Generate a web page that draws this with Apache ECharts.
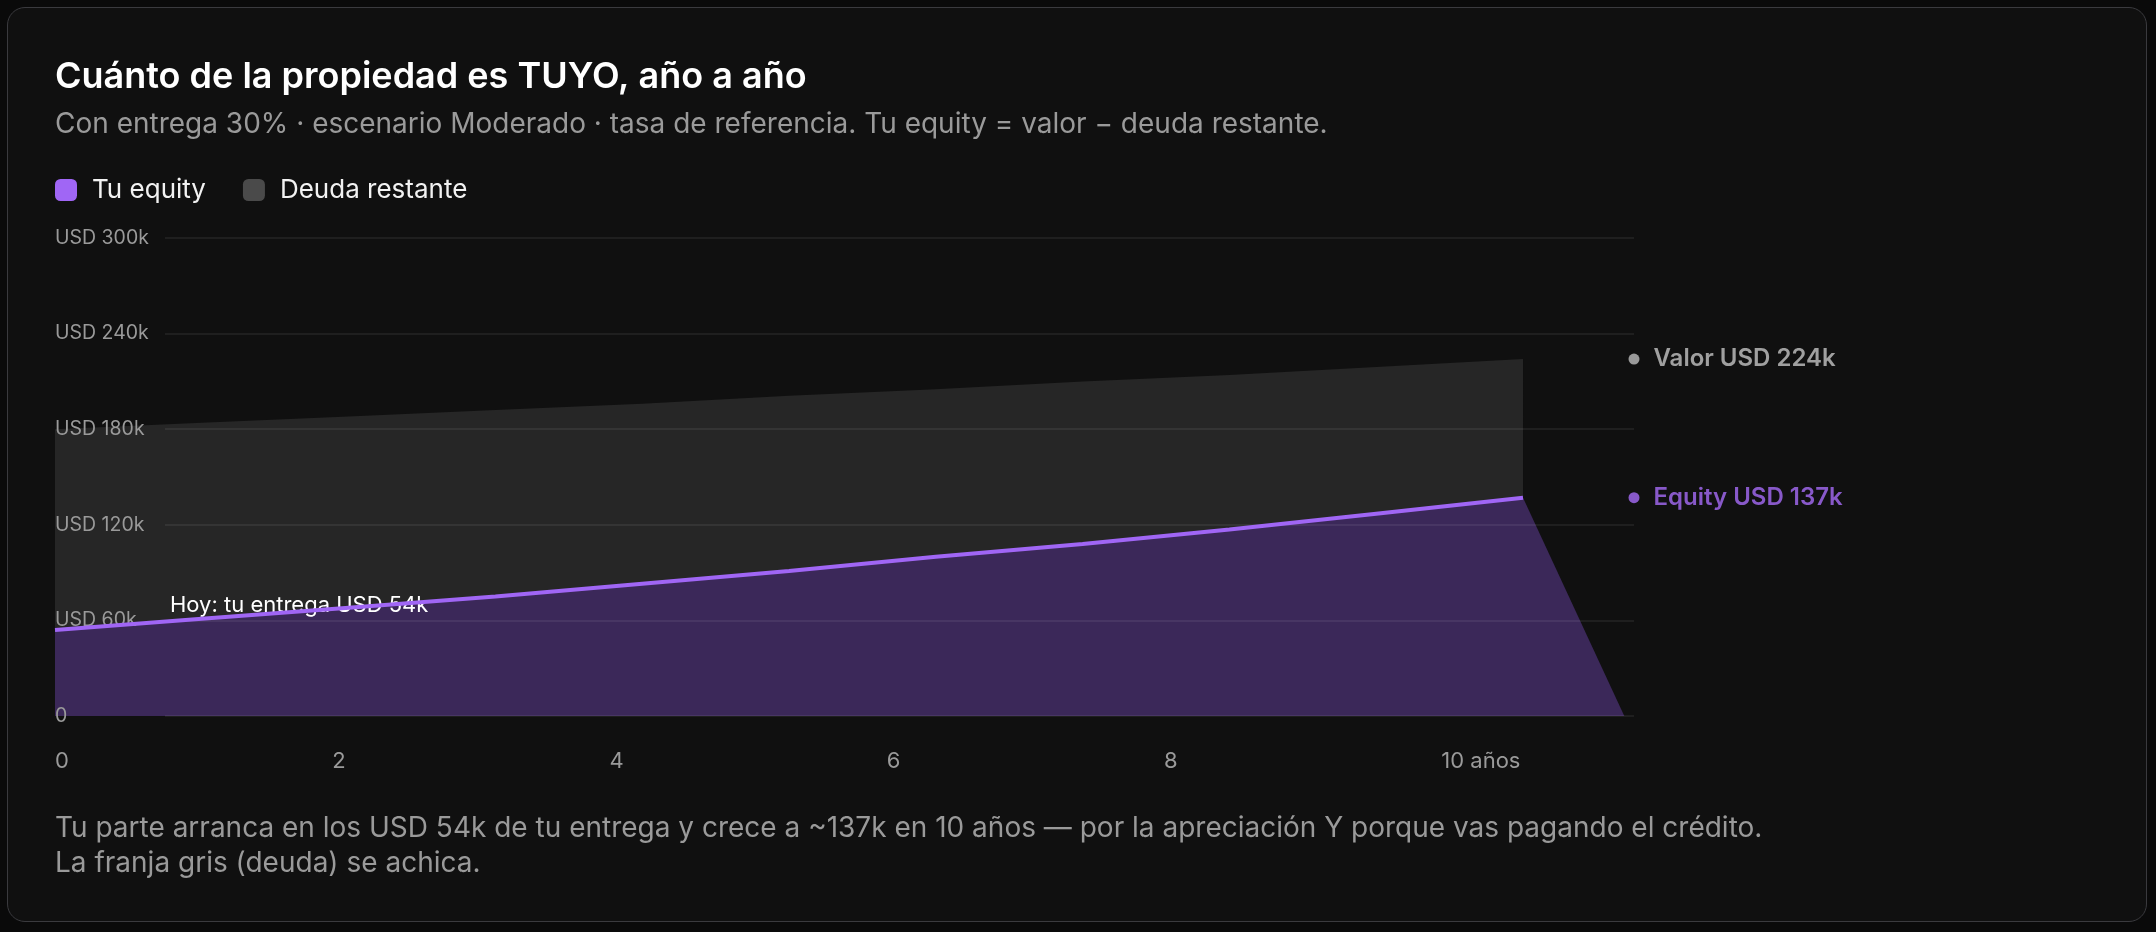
<!DOCTYPE html>
<html>
<head>
<meta charset="utf-8">
<script src="https://cdn.jsdelivr.net/npm/echarts@6/dist/echarts.min.js"></script>
<style>
  html, body { margin: 0; padding: 0; background: #0a0a0a; }
  .card {
    position: absolute; left: 7px; top: 7px; width: 2138px; height: 913px;
    background: #101010; border: 1.5px solid #3a3a3e; border-radius: 18px;
  }
  #main { position: absolute; left: 0; top: 0; width: 2156px; height: 932px; }
</style>
</head>
<body>
<div class="card"></div>
<div id="main"></div>
<script>
// años 0..10
const years = [0, 1, 2, 3, 4, 5, 6, 7, 8, 9, 10]
// equity (miles USD)
const equity = [54, 61, 68, 75, 83, 91, 100, 108, 117, 127, 137]
// valor de la propiedad (miles USD) = equity + deuda restante
const propValue = [180, 184, 188, 192, 196, 201, 205, 210, 214, 219, 224]
// donde el area violeta cae a 0 (en años)
const equityAreaEnd = 10.69
const yTicks = [0, 60, 120, 180, 240, 300]
const xTicks = [0, 2, 4, 6, 8, 10]

const purple = '#a066f5'
const purpleArea = '#3b2859'
const greyArea = '#262626'
const axisGrey = '#9a9a9a'
const font = 'Inter'

const lastIdx = years.length - 1
const dataXMax = 10.756
const labelXMax = 11.39

const myChart = echarts.init(document.getElementById('main'))

const option = {
  backgroundColor: 'transparent',
  textStyle: { fontFamily: font },
  title: [{
    text: 'Cuánto de la propiedad es TUYO, año a año',
    left: 55, top: 59, padding: 0,
    textStyle: { color: '#ffffff', fontSize: 36, fontWeight: 600, fontFamily: font }
  }, {
    text: 'Con entrega 30% · escenario Moderado · tasa de referencia. Tu equity = valor − deuda restante.',
    left: 55, top: 111, padding: 0,
    textStyle: { color: '#9a9a9a', fontSize: 28, fontWeight: 400, fontFamily: font }
  }, {
    text: 'Tu parte arranca en los USD 54k de tu entrega y crece a ~137k en 10 años — por la apreciación Y porque vas pagando el crédito.\nLa franja gris (deuda) se achica.',
    left: 55, top: 811, padding: 0,
    textStyle: { color: '#9a9a9a', fontSize: 28, fontWeight: 400, lineHeight: 35, fontFamily: font }
  }],
  legend: {
    left: 55, top: 177, padding: 0,
    itemWidth: 22, itemHeight: 22, itemGap: 37,
    icon: 'roundRect',
    textStyle: { color: '#f2f2f2', fontSize: 26, fontFamily: font, padding: [0, 0, 0, 10] },
    data: [
      { name: 'Tu equity', itemStyle: { color: purple } },
      { name: 'Deuda restante', itemStyle: { color: '#4a4a4a' } }
    ]
  },
  grid: [
    { left: 55, right: 522, top: 238, bottom: 216 },
    { left: 165, right: 522, top: 238, bottom: 216 }
  ],
  xAxis: [{
    gridIndex: 0, type: 'value', min: 0, max: dataXMax, show: false
  }, {
    gridIndex: 0, type: 'value', min: 0, max: labelXMax, interval: 2, position: 'bottom',
    axisLine: { show: false }, axisTick: { show: false }, splitLine: { show: false },
    axisLabel: {
      align: 'left', margin: 34, color: axisGrey, fontSize: 22, fontFamily: font,
      showMaxLabel: false,
      formatter: v => (v === xTicks[xTicks.length - 1] ? v + ' años' : String(v))
    }
  }, {
    gridIndex: 1, type: 'value', min: 0, max: 1, show: false
  }],
  yAxis: [{
    gridIndex: 0, type: 'value', min: yTicks[0], max: yTicks[yTicks.length - 1], interval: 60, z: 3,
    axisLine: { show: false }, axisTick: { show: false }, splitLine: { show: false },
    axisLabel: {
      inside: true, margin: 0, color: axisGrey, fontSize: 19.5, fontFamily: font,
      formatter: v => (v === 0 ? '0' : 'USD ' + v + 'k')
    }
  }, {
    gridIndex: 1, type: 'value', min: yTicks[0], max: yTicks[yTicks.length - 1], interval: 60, z: 3,
    axisLine: { show: false }, axisTick: { show: false }, axisLabel: { show: false },
    splitLine: { lineStyle: { color: 'rgba(255,255,255,0.09)', width: 1.5 } }
  }],
  series: [{
    // franja gris: deuda restante, entre el equity y el valor
    name: 'Deuda restante',
    type: 'line', z: 1,
    xAxisIndex: 0, yAxisIndex: 0,
    data: years.map((y, i) => [y, propValue[i]]),
    showSymbol: false, lineStyle: { width: 0 },
    itemStyle: { color: '#4a4a4a' },
    areaStyle: { color: greyArea, opacity: 1 }
  }, {
    name: 'Tu equity',
    type: 'line', z: 1,
    xAxisIndex: 0, yAxisIndex: 0,
    data: years.map((y, i) => [y, equity[i]]),
    showSymbol: false, lineStyle: { width: 0 },
    itemStyle: { color: purple },
    areaStyle: { color: purpleArea, opacity: 1 }
  }, {
    // caida del area violeta despues del año 10
    type: 'line', z: 1,
    xAxisIndex: 0, yAxisIndex: 0,
    data: [[years[lastIdx], equity[lastIdx]], [equityAreaEnd, 0]],
    showSymbol: false, lineStyle: { width: 0 },
    areaStyle: { color: purpleArea, opacity: 1 }
  }, {
    name: 'Tu equity',
    type: 'line', z: 5,
    xAxisIndex: 0, yAxisIndex: 0,
    data: years.map((y, i) => [y, equity[i]]),
    showSymbol: false,
    lineStyle: { color: purple, width: 4 },
    itemStyle: { color: purple },
    markPoint: {
      symbol: 'circle', symbolSize: 0,
      data: [{ coord: [years[0], equity[0]] }],
      label: {
        show: true, position: 'right', offset: [110, -25],
        color: '#ffffff', fontSize: 22, fontFamily: font,
        formatter: 'Hoy: tu entrega USD ' + equity[0] + 'k'
      }
    }
  }, {
    type: 'scatter', z: 5,
    xAxisIndex: 0, yAxisIndex: 0,
    symbolSize: 11,
    data: [{
      value: [dataXMax, propValue[lastIdx]],
      itemStyle: { color: '#bdbdbd' },
      label: { color: '#c4c4c4', formatter: 'Valor USD ' + propValue[lastIdx] + 'k' }
    }, {
      value: [dataXMax, equity[lastIdx]],
      itemStyle: { color: '#a66bf7' },
      label: { color: '#a66bf7', formatter: 'Equity USD ' + equity[lastIdx] + 'k' }
    }],
    label: { show: true, position: 'right', distance: 14, fontSize: 24, fontWeight: 600, fontFamily: font }
  }]
}

myChart.setOption(option)
</script>
</body>
</html>
